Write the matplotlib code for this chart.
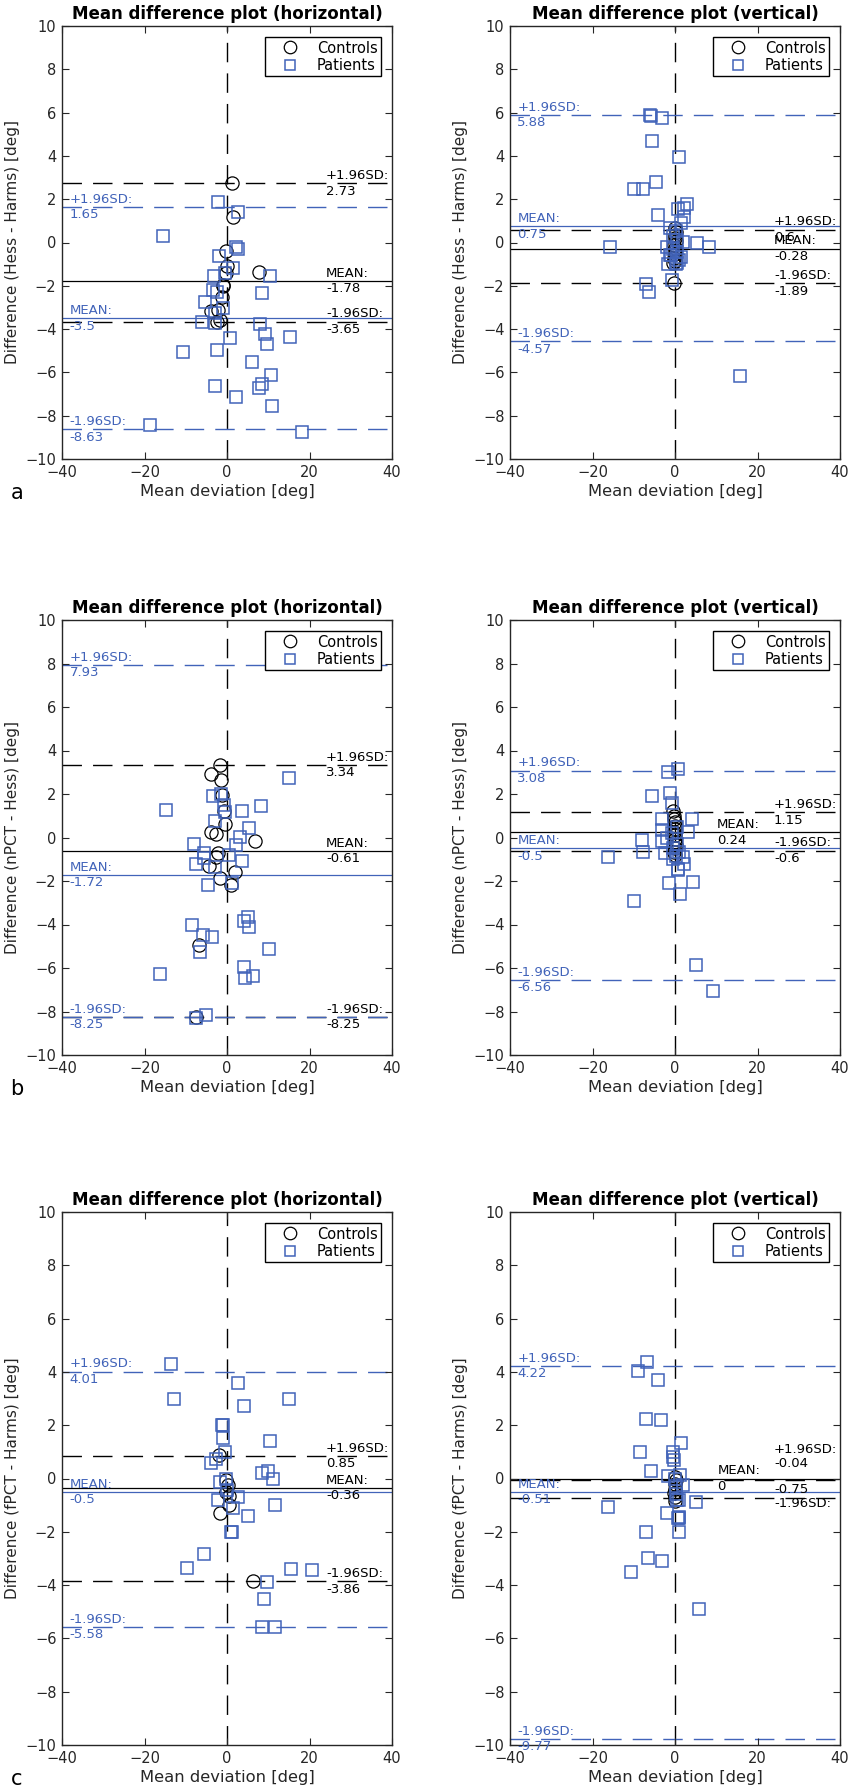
import matplotlib
matplotlib.use("Agg")
import matplotlib.pyplot as plt
from matplotlib.lines import Line2D

plt.rcParams['font.family'] = ['DejaVu Sans']
plt.rcParams['lines.scale_dashes'] = False

BLUE = '#4163B9'
DARK = '#262626'

# ---------------- data ----------------
# Panel a-left: Hess - Harms, horizontal
a_h_ctrl_x = [1.3, 1.5, -0.3, 0.0, 7.7, -0.3, -0.9, -1.3, -4.0, -2.1, -1.7, -2.5, -1.0]
a_h_ctrl_y = [2.74, 1.19, -0.38, -1.1, -1.38, -1.39, -1.96, -2.5, -3.15, -3.1, -3.57, -3.65, -2.0]
a_h_pat_x = [-2.1, 2.6, -15.6, 2.1, 2.7, -1.9, 1.5, -0.4, -3.1, 10.5, -3.3, -2.5, 8.5, -5.4, -0.9,
             -2.9, -6.0, -2.9, 8.0, 9.2, 0.7, 15.2, 9.8, -10.6, -2.5, 6.1, 10.6, -2.9, 8.5, 7.8,
             2.3, 10.8, -18.6, 18.1]
a_h_pat_y = [1.85, 1.39, 0.3, -0.19, -0.31, -0.62, -1.19, -1.39, -1.54, -1.54, -2.19, -2.27, -2.34,
             -2.74, -3.02, -3.27, -3.68, -3.7, -3.76, -4.22, -4.42, -4.37, -4.70, -5.08, -4.96,
             -5.50, -6.11, -6.65, -6.54, -6.73, -7.14, -7.57, -8.42, -8.76]
a_h_ctrl_stats = [2.73, -1.78, -3.65]
a_h_pat_stats = [1.65, -3.5, -8.63]

# Panel a-right: Hess - Harms, vertical
a_v_ctrl_x = [0.1, 0.2, -0.1, 0.0, 0.2, -0.2, 0.1, -0.1, 0.0, -0.3, -0.1, -0.4, -0.2]
a_v_ctrl_y = [0.65, 0.5, 0.35, 0.2, 0.05, -0.1, -0.25, -0.4, -0.55, -0.7, -0.85, -0.95, -1.89]
a_v_pat_x = [-6.06, -5.9, -3.2, -5.66, 0.97, -9.86, -7.84, -4.6, 0.8, 2.83, 2.1, -4.04, 2.1, -1.2,
             -15.76, 5.4, 8.16, 2.0, -2.0, -1.2, 1.45, -1.6, 0.4, -0.8, -7.03, -6.2, 15.76,
             0.3, -0.5, 1.5, 0.6, -0.4, 0.5, -0.9, 1.0, 0.2]
a_v_pat_y = [5.91, 5.83, 5.77, 4.70, 3.96, 2.47, 2.45, 2.81, 1.55, 1.76, 1.58, 1.27, 1.16, 0.68,
             -0.19, -0.02, -0.19, 0.02, -0.19, -0.58, -0.68, -1.0, -0.96, -1.73, -1.91, -2.30, -6.16,
             0.55, 0.3, 0.9, 0.1, -0.3, -0.45, -0.6, -0.8, -1.0]
a_v_ctrl_stats = [0.6, -0.28, -1.89]
a_v_pat_stats = [5.88, 0.75, -4.57]

# Panel b-left: nPCT - Hess, horizontal
b_h_ctrl_x = [-1.8, -3.9, -1.5, -1.1, -0.8, -0.4, -3.8, -2.7, 6.8, -2.3, -2.7, -4.4, 1.85, -1.6,
              0.9, -6.75, -7.4]
b_h_ctrl_y = [3.35, 2.92, 2.63, 1.97, 1.2, 0.63, 0.25, 0.17, -0.18, -0.72, -0.91, -1.29, -1.57,
              -1.85, -2.18, -4.95, -8.25]
b_h_pat_x = [15.0, -3.5, -1.4, -0.8, -14.8, 8.2, 3.7, -0.6, -3.0, 5.3, 3.2, 2.25, -8.0, -5.6, -5.5,
             0.4, 3.7, -7.4, -3.0, -4.7, 1.2, -8.4, 5.1, 4.1, 5.3, -5.8, -3.6, -6.6, 10.3, -16.2,
             4.0, 4.3, 6.4, -7.4, -5.1]
b_h_pat_y = [2.74, 1.92, 2.0, 1.51, 1.26, 1.46, 1.2, 1.17, 0.74, 0.43, 0.03, -0.34, -0.29, -0.72,
             -0.95, -0.8, -1.08, -1.2, -1.34, -2.18, -2.11, -4.03, -3.65, -3.85, -4.11, -4.49,
             -4.58, -5.26, -5.11, -6.28, -5.95, -6.45, -6.37, -8.29, -8.18]
b_h_ctrl_stats = [3.34, -0.61, -8.25]
b_h_pat_stats = [7.93, -1.72, -8.25]

# Panel b-right: nPCT - Hess, vertical
b_v_ctrl_x = [-0.5, -0.3, -0.2, 0.0, -0.1, 0.1, -0.2, 0.0, 0.1, -0.1, 0.2, 0.0, -0.2, 0.1]
b_v_ctrl_y = [1.2, 1.0, 0.85, 0.7, 0.55, 0.4, 0.25, 0.1, -0.05, -0.2, -0.35, -0.5, -0.65, -0.8]
b_v_pat_x = [-1.6, 0.65, -5.66, -1.2, -0.8, -3.07, 4.04, -3.07, 3.23, -7.9, -3.2, -2.0, -7.7, -16.3,
             -2.4, 1.86, 2.26, 0.8, -1.37, 4.44, 1.3, -9.9, 5.1, 9.2,
             0.5, -0.8, 0.6, -0.5, 1.0, 0.3, -0.6, 0.8]
b_v_pat_y = [3.02, 3.15, 1.92, 2.05, 1.58, 0.86, 0.83, 0.35, 0.25, -0.11, -0.18, 0.0, -0.65, -0.91,
             -0.72, -0.91, -1.22, -1.49, -2.08, -2.03, -2.62, -2.91, -5.88, -7.08,
             0.5, 0.2, -0.3, -0.5, -0.65, -0.85, -1.0, -1.45]
b_v_ctrl_stats = [1.15, 0.24, -0.6]
b_v_pat_stats = [3.08, -0.5, -6.56]

# Panel c-left: fPCT - Harms, horizontal
c_h_ctrl_x = [-1.85, -0.3, 0.2, -0.2, 0.4, 0.6, -1.8, 6.4]
c_h_ctrl_y = [0.87, -0.04, -0.25, -0.5, -0.65, -0.98, -1.29, -3.86]
c_h_pat_x = [-13.6, -12.9, 2.65, 4.1, 15.0, -1.2, -1.0, -1.0, 10.4, -0.4, -3.9, -2.7, 8.6, 9.9, 11.1,
             -1.6, -0.2, 0.1, 2.65, -2.2, 1.45, 5.1, 11.6, 0.9, 1.1, -5.5, -9.7, 15.5, 20.7, 9.6,
             8.9, 8.4, 11.7]
c_h_pat_y = [4.30, 2.97, 3.6, 2.72, 2.97, 2.02, 1.99, 1.52, 1.41, 1.0, 0.59, 0.74, 0.2, 0.3, 0.0,
             -0.13, 0.0, -0.43, -0.71, -0.79, -1.1, -1.4, -0.99, -1.99, -1.99, -2.85, -3.37, -3.4,
             -3.43, -3.87, -4.51, -5.58, -5.58]
c_h_ctrl_stats = [0.85, -0.36, -3.86]
c_h_pat_stats = [4.01, -0.5, -5.58]

# Panel c-right: fPCT - Harms, vertical
c_v_ctrl_x = [0.0, 0.2, -0.1, 0.1, -0.2, 0.1, 0.0]
c_v_ctrl_y = [0.05, -0.05, -0.2, -0.4, -0.55, -0.7, -0.85]
c_v_pat_x = [-6.7, -8.9, -4.2, -6.95, -3.5, 1.54, -8.5, -0.57, -0.4, -5.9, -1.6, 1.3, 2.0, 0.0, 0.4,
             5.0, -16.3, -1.86, 0.8, 1.05, -7.1, -6.5, -3.07, -10.7, 5.8,
             0.3, 0.9, 0.9, 1.0, -0.3, 0.2]
c_v_pat_y = [4.36, 4.02, 3.68, 2.23, 2.19, 1.32, 0.98, 1.01, 0.82, 0.27, 0.09, 0.15, -0.24, 0.0,
             -0.82, -0.9, -1.08, -1.29, -1.49, -1.99, -2.02, -2.99, -3.08, -3.49, -4.91,
             -0.6, -0.8, -1.45, -1.5, 0.7, -0.3]
c_v_ctrl_stats = [-0.04, 0.0, -0.75]
c_v_pat_stats = [4.22, -0.51, -9.77]

titles = ['Mean difference plot (horizontal)', 'Mean difference plot (vertical)']
ylabels = ['Difference (Hess - Harms) [deg]', 'Difference (nPCT - Hess) [deg]',
           'Difference (fPCT - Harms) [deg]']
xlabel = 'Mean deviation [deg]'
row_letters = ['a', 'b', 'c']
xticks = [-40, -20, 0, 20, 40]
yticks = [-10, -8, -6, -4, -2, 0, 2, 4, 6, 8, 10]

panels = [
    (a_h_ctrl_x, a_h_ctrl_y, a_h_pat_x, a_h_pat_y, a_h_ctrl_stats, a_h_pat_stats),
    (a_v_ctrl_x, a_v_ctrl_y, a_v_pat_x, a_v_pat_y, a_v_ctrl_stats, a_v_pat_stats),
    (b_h_ctrl_x, b_h_ctrl_y, b_h_pat_x, b_h_pat_y, b_h_ctrl_stats, b_h_pat_stats),
    (b_v_ctrl_x, b_v_ctrl_y, b_v_pat_x, b_v_pat_y, b_v_ctrl_stats, b_v_pat_stats),
    (c_h_ctrl_x, c_h_ctrl_y, c_h_pat_x, c_h_pat_y, c_h_ctrl_stats, c_h_pat_stats),
    (c_v_ctrl_x, c_v_ctrl_y, c_v_pat_x, c_v_pat_y, c_v_ctrl_stats, c_v_pat_stats),
]

# ---------------- figure ----------------
W, H = 851, 1789
fig = plt.figure(figsize=(W / 100, H / 100), dpi=100)

col_left = [62, 510]
col_w = 330
row_tb = [(26, 459), (620, 1055), (1212, 1745)]

DASH = (14, 8)
LBL_FS = 9.5


def fmt(v):
    s = ('%.2f' % v).rstrip('0').rstrip('.')
    if s == '-0':
        s = '0'
    return s


for idx, (cx, cy, px, py, cs, ps) in enumerate(panels):
    r, c = divmod(idx, 2)
    top, bot = row_tb[r]
    ax = fig.add_axes([col_left[c] / W, 1 - bot / H, col_w / W, (bot - top) / H])
    ax.set_xlim(-40, 40)
    ax.set_ylim(-10, 10)
    ax.set_xticks(xticks)
    ax.set_yticks(yticks)
    ax.tick_params(direction='in', top=True, right=True, length=5, width=0.8,
                   colors=DARK, labelsize=10.5, labelcolor=DARK, pad=4)
    for s in ax.spines.values():
        s.set_color(DARK)
        s.set_linewidth(1.0)

    # reference lines
    ax.axvline(0, color='k', lw=1.0, dashes=DASH, zorder=1)
    ax.axhline(cs[0], color='k', lw=1.0, dashes=DASH, zorder=1)
    ax.axhline(cs[1], color='k', lw=0.9, zorder=1)
    ax.axhline(cs[2], color='k', lw=1.0, dashes=DASH, zorder=1)
    ax.axhline(ps[0], color=BLUE, lw=1.0, dashes=DASH, zorder=1)
    ax.axhline(ps[1], color=BLUE, lw=0.9, zorder=1)
    ax.axhline(ps[2], color=BLUE, lw=1.0, dashes=DASH, zorder=1)

    # points
    ax.plot(cx, cy, linestyle='none', marker='o', ms=9.5, mfc='none', mec='k', mew=0.9,
            label='Controls', zorder=3)
    ax.plot(px, py, linestyle='none', marker='s', ms=9, mfc='none', mec=BLUE, mew=1.1,
            label='Patients', zorder=3)

    # patient annotations (left)
    for name, v in zip(['+1.96SD:', 'MEAN:', '-1.96SD:'], ps):
        ax.text(-38.2, v, name + '\n' + fmt(v), color=BLUE, fontsize=LBL_FS,
                ha='left', va='center', linespacing=1.25)

    # control annotations (right)
    if idx == 5:
        ax.text(24, 1.08, '+1.96SD:', color='k', fontsize=LBL_FS, ha='left', va='center')
        ax.text(24, 0.58, fmt(cs[0]), color='k', fontsize=LBL_FS, ha='left', va='center')
        ax.text(10.3, cs[1], 'MEAN:\n' + fmt(cs[1]), color='k', fontsize=LBL_FS,
                ha='left', va='center', linespacing=1.25)
        ax.text(24, -0.43, fmt(cs[2]), color='k', fontsize=LBL_FS, ha='left', va='center')
        ax.text(24, -0.94, '-1.96SD:', color='k', fontsize=LBL_FS, ha='left', va='center')
    else:
        mean_x = 10.1 if idx == 3 else 24
        for name, v, xx in zip(['+1.96SD:', 'MEAN:', '-1.96SD:'], cs, [24, mean_x, 24]):
            ax.text(xx, v, name + '\n' + fmt(v), color='k', fontsize=LBL_FS,
                    ha='left', va='center', linespacing=1.25)

    ax.set_title(titles[c], fontsize=12, fontweight='bold', color='k', pad=5)
    ax.set_xlabel(xlabel, fontsize=11.8, color=DARK, labelpad=3)
    ax.set_ylabel(ylabels[r], fontsize=11, color=DARK, labelpad=4)

    handles = [Line2D([], [], linestyle='none', marker='o', ms=9, mfc='none', mec='k', mew=0.9),
               Line2D([], [], linestyle='none', marker='s', ms=7, mfc='none', mec=BLUE, mew=1.1)]
    leg = ax.legend(handles, ['Controls', 'Patients'], loc='upper right', fontsize=10.5,
                    frameon=True, fancybox=False, framealpha=1, edgecolor='k',
                    borderpad=0.25, labelspacing=0.15, handlelength=3.0, handletextpad=0.3,
                    borderaxespad=0.75)
    leg.get_frame().set_linewidth(1.0)

    if c == 0:
        fig.text(17 / W, 1 - (bot + 34) / H, row_letters[r], fontsize=15, ha='center',
                 va='center', color='k')

fig.savefig('out.png', dpi=100)
